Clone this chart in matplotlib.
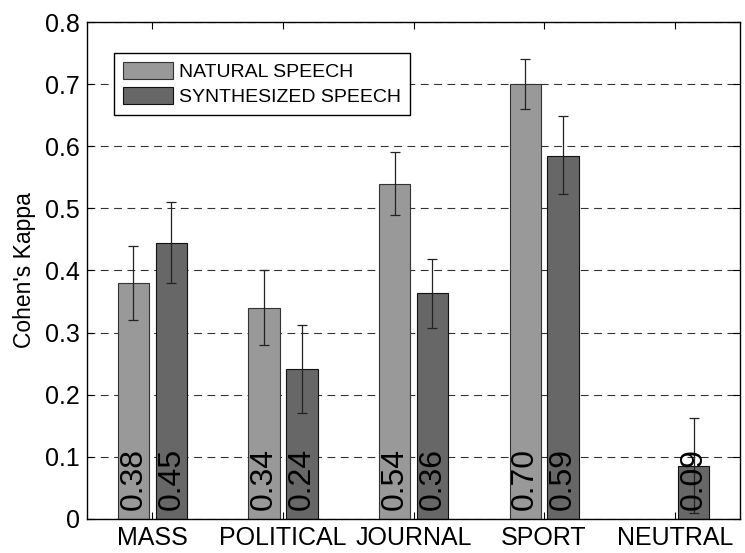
import numpy as np
import matplotlib
matplotlib.use("Agg")
import matplotlib.pyplot as plt
from matplotlib.ticker import FuncFormatter

plt.rcParams['font.family'] = ['Liberation Sans', 'DejaVu Sans']

# Data
categories = ['MASS', 'POLITICAL', 'JOURNAL', 'SPORT', 'NEUTRAL']
natural = [0.38, 0.34, 0.54, 0.70, np.nan]
natural_lo = [0.32, 0.28, 0.49, 0.66, np.nan]
natural_hi = [0.44, 0.40, 0.59, 0.74, np.nan]
synth = [0.445, 0.242, 0.363, 0.585, 0.086]
synth_lo = [0.38, 0.17, 0.307, 0.523, 0.010]
synth_hi = [0.51, 0.313, 0.418, 0.648, 0.162]
labels_nat = ['0.38', '0.34', '0.54', '0.70', '']
labels_syn = ['0.45', '0.24', '0.36', '0.59', '0.09']

x = np.arange(1, len(categories) + 1)
w = 0.24
off = 0.145

fig = plt.figure(figsize=(7.45, 5.53), dpi=100)
ax = fig.add_axes([0.1168, 0.0615, 0.8765, 0.8987])

nat = np.array(natural)
syn = np.array(synth)
ax.bar(x - off, nat, w, color='#999999', edgecolor='#333333', linewidth=0.8,
       label='NATURAL SPEECH', zorder=2)
ax.bar(x + off, syn, w, color='#676767', edgecolor='#111111', linewidth=0.8,
       label='SYNTHESIZED SPEECH', zorder=2)

err_nat = [nat - np.array(natural_lo), np.array(natural_hi) - nat]
err_syn = [syn - np.array(synth_lo), np.array(synth_hi) - syn]
ax.errorbar(x - off, nat, yerr=err_nat, fmt='none', ecolor='#222222',
            elinewidth=0.9, capsize=3.6, capthick=0.9, zorder=3)
ax.errorbar(x + off, syn, yerr=err_syn, fmt='none', ecolor='#222222',
            elinewidth=0.9, capsize=3.6, capthick=0.9, zorder=3)

for xi, lab in zip(x - off, labels_nat):
    if lab:
        ax.text(xi, 0.0145, lab, rotation=90, ha='center', va='bottom',
                fontsize=23, zorder=4)
for xi, lab in zip(x + off, labels_syn):
    ax.text(xi, 0.0145, lab, rotation=90, ha='center', va='bottom',
            fontsize=23, zorder=4)

ax.set_xlim(0.5, 5.5)
ax.set_ylim(0, 0.8)
ax.set_yticks(np.arange(0, 0.81, 0.1))
ax.yaxis.set_major_formatter(FuncFormatter(lambda v, p: '0' if abs(v) < 1e-9 else f'{v:.1f}'))
ax.set_xticks(x)
ax.set_xticklabels(categories)
ax.tick_params(axis='both', direction='in', labelsize=18, top=True, right=True,
               length=5, width=0.8)
ax.tick_params(axis='x', pad=5)
ax.tick_params(axis='y', pad=5)
ax.set_ylabel("Cohen's Kappa", fontsize=16.5)
ax.yaxis.set_label_coords(-0.078, 0.5)

ax.yaxis.grid(True, linestyle=(0, (7, 5)), color='#333333', linewidth=0.8, zorder=0)
ax.set_axisbelow(True)
for s in ax.spines.values():
    s.set_linewidth(1.0)

ax.legend(loc='upper left', bbox_to_anchor=(0.0413, 0.9376), borderaxespad=0,
          fontsize=14, frameon=True, fancybox=False, edgecolor='black',
          framealpha=1, handlelength=2.6, handleheight=1.0, handletextpad=0.3,
          borderpad=0.45, labelspacing=0.28)

fig.savefig('out.png', dpi=100)
